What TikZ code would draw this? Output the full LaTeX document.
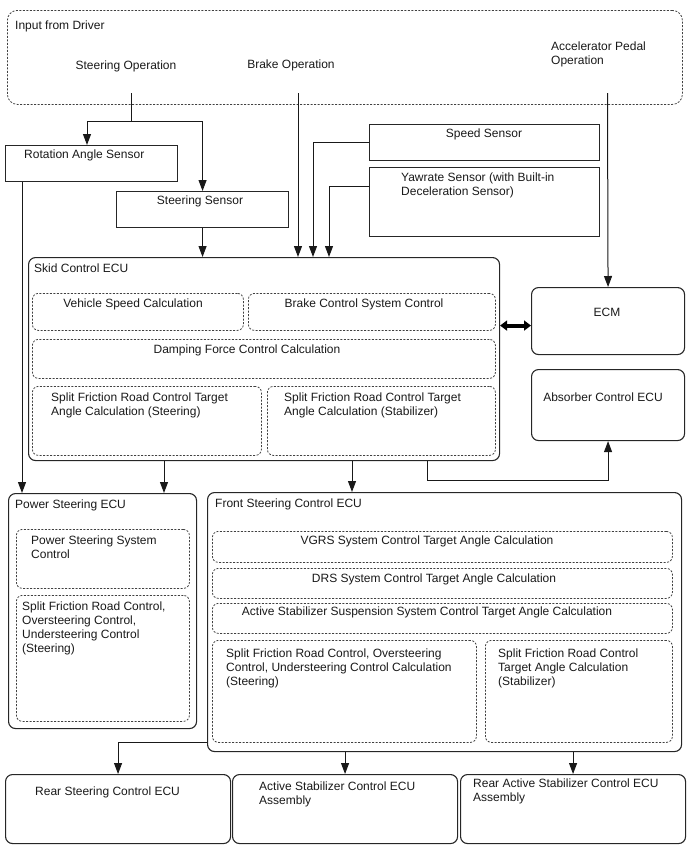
\documentclass[tikz,border=0pt]{standalone}
\usepackage{fontspec}
\setmainfont{Liberation Sans}
\usetikzlibrary{arrows.meta,calc}
\newcommand\fs{\fontsize{12}{14}\selectfont}
\tikzset{
  ln/.style={draw=black!85, line width=1.1pt},
  sbox/.style={ln, inner sep=0, anchor=north west},
  ecu/.style={ln, rounded corners=7pt, inner sep=0, anchor=north west},
  dbox/.style={draw=black!75, line width=0.8pt, dash pattern=on 2pt off 1.5pt, rounded corners=6pt, inner sep=0, anchor=north west},
  arr/.style={draw=black!90, line width=1pt, -{Triangle[length=11pt,width=8pt]}},
  plain/.style={draw=black!90, line width=1pt},
  tl/.style={inner sep=0, anchor=north west, align=left, font=\fs, text=black!90},
  tc/.style={inner sep=0, anchor=north, align=center, font=\fs, text=black!90},
}
\newcommand\bx[6]{\node[#1, minimum width=#4-#2, minimum height=#5-#3] (#6) at (#2,#3) {};}
\begin{document}
\begin{tikzpicture}[x=1pt,y=-1pt]
\useasboundingbox (0,0) rectangle (688,852);
% boxes
\node[dbox, rounded corners=10pt, minimum width=675, minimum height=94] (input) at (7,10) {};
\bx{sbox}{5}{145}{177}{181}{ras}
\bx{sbox}{116}{191}{288}{227}{ss}
\bx{sbox}{369}{124}{599}{160}{spd}
\bx{sbox}{369}{167}{599}{236}{yaw}
\bx{ecu}{28}{257}{499}{460}{skid}
\bx{dbox}{32}{293}{243}{330}{vsc}
\bx{dbox}{248}{293}{495}{330}{bcs}
\bx{dbox}{32}{339}{495}{378}{dfc}
\bx{dbox}{32}{386}{261}{455}{sfl}
\bx{dbox}{267}{386}{495}{455}{sfr}
\bx{ecu}{531}{287}{684}{354}{ecm}
\bx{ecu}{531}{369}{684}{440}{abs}
\bx{ecu}{8}{493}{196}{728}{ps}
\bx{dbox}{16}{529}{189}{588}{pssc}
\bx{dbox}{16}{595}{189}{721}{psf}
\bx{ecu}{207}{492}{681}{751}{fsc}
\bx{dbox}{212}{531}{672}{562}{vgrs}
\bx{dbox}{212}{568}{672}{598}{drs}
\bx{dbox}{212}{603}{672}{633}{asss}
\bx{dbox}{212}{640}{476}{742}{fsl}
\bx{dbox}{485}{640}{672}{742}{fsr}
\bx{ecu}{5}{774}{230}{843}{rsc}
\bx{ecu}{232}{774}{457}{843}{asc}
\bx{ecu}{460}{774}{685}{843}{rasc}
% texts
\node[tl] (t1) at (15,19.5) {\strut Input from Driver};
\node[tc] (t2) at (126,59.5) {\strut Steering Operation};
\node[tc] (t3) at (291,58.5) {\strut Brake Operation};
\node[tl] (t4) at (551,40.5) {\strut Accelerator Pedal\\Operation};
\node[tl] (t5) at (24,148.5) {\strut Rotation Angle Sensor};
\node[tc] (t6) at (200,194.5) {\strut Steering Sensor};
\node[tc] (t7) at (484,127.5) {\strut Speed Sensor};
\node[tl] (t8) at (401,171.5) {\strut Yawrate Sensor (with Built-in\\Deceleration Sensor)};
\node[tl] (t9) at (34,262.5) {\strut Skid Control ECU};
\node[tc] (t10) at (133,297.5) {\strut Vehicle Speed Calculation};
\node[tc] (t11) at (364,297.5) {\strut Brake Control System Control};
\node[tc] (t12) at (247,343.5) {\strut Damping Force Control Calculation};
\node[tl] (t13) at (51,391.5) {\strut Split Friction Road Control Target\\Angle Calculation (Steering)};
\node[tl] (t14) at (284,391.5) {\strut Split Friction Road Control Target\\Angle Calculation (Stabilizer)};
\node[tc] (t15) at (607,306.5) {\strut ECM};
\node[tc] (t16) at (603,391.5) {\strut Absorber Control ECU};
\node[tl] (t17) at (15,498.5) {\strut Power Steering ECU};
\node[tl] (t18) at (215,497.5) {\strut Front Steering Control ECU};
\node[tl] (t19) at (31,534.5) {\strut Power Steering System\\Control};
\node[tl] (t20) at (22,600.5) {\strut Split Friction Road Control,\\Oversteering Control,\\Understeering Control\\(Steering)};
\node[tc] (t21) at (427,534.5) {\strut VGRS System Control Target Angle Calculation};
\node[tc] (t22) at (434,572.5) {\strut DRS System Control Target Angle Calculation};
\node[tc] (t23) at (427,605.5) {\strut Active Stabilizer Suspension System Control Target Angle Calculation};
\node[tl] (t24) at (226,647.5) {\strut Split Friction Road Control, Oversteering\\Control, Understeering Control Calculation\\(Steering)};
\node[tl] (t25) at (498,647.5) {\strut Split Friction Road Control\\Target Angle Calculation\\(Stabilizer)};
\node[tl] (t26) at (35,785.5) {\strut Rear Steering Control ECU};
\node[tl] (t27) at (259,780.5) {\strut Active Stabilizer Control ECU\\Assembly};
\node[tl] (t28) at (473,777.5) {\strut Rear Active Stabilizer Control ECU\\Assembly};
% connectors
\coordinate (stq) at (131,93);
\coordinate (j1) at (131,121);
\coordinate (jl) at (87,121);
\draw[plain] (stq) -- (j1) -- (jl);
\draw[arr] (jl) -- (jl |- ras.north);
\draw[arr] (j1) -| (ss.north);
\coordinate (bq) at (298,93);
\draw[arr] (bq) -- (bq |- skid.north);
\draw[arr] (spd.west) -| ([xshift=285pt]skid.north west);
\draw[arr] ([yshift=-19pt]yaw.north west) -| ([xshift=301pt]skid.north west);
\draw[arr] (ss.south) -- (ss.south |- skid.north);
\coordinate (r1) at ([xshift=17pt]ras.south west);
\draw[arr] (r1) -- (r1 |- ps.north);
\coordinate (aq) at (607.5,93);
\draw[arr] (aq) -- (ecm.north);
\coordinate (e1) at ([yshift=-4.5pt]ecm.west);
\draw[draw=black, line width=4pt, {Triangle[length=7pt,width=10pt]}-{Triangle[length=7pt,width=10pt]}] (e1) -- (e1 -| skid.east);
\coordinate (s3) at ([xshift=399pt]skid.south west);
\draw[arr] (s3) -- ++(0,19) -| (abs.south);
\coordinate (s1) at ([xshift=136pt]skid.south west);
\draw[arr] (s1) -- (s1 |- ps.north);
\coordinate (s2) at ([xshift=324pt]skid.south west);
\draw[arr] (s2) -- (s2 |- fsc.north);
\draw[arr] ([yshift=10pt]fsc.south west) -| (rsc.north);
\draw[arr] (fsc.south -| asc.north) -- (asc.north);
\draw[arr] (fsc.south -| rasc.north) -- (rasc.north);
\end{tikzpicture}
\end{document}
